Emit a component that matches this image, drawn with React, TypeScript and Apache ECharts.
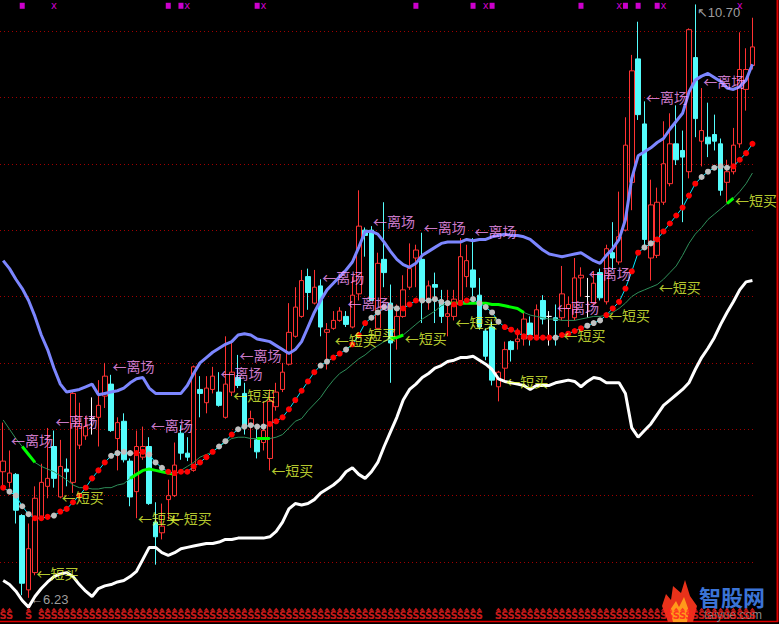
import React, { useEffect, useRef } from "react";
import * as echarts from "echarts";

// [open, close, low, high]
const candles: number[][] = [
  [7.18, 7.26, 7.06, 7.55], [7.10, 7.17, 7.06, 7.34], [7.16, 6.89, 6.79, 7.17], [6.85, 6.34, 6.25, 6.86], [6.29, 6.60, 6.23, 6.79],
  [6.42, 6.98, 6.40, 7.07], [6.84, 7.10, 6.83, 7.24], [7.07, 7.13, 6.98, 7.51], [7.37, 7.13, 7.06, 7.49], [6.99, 7.22, 6.98, 7.42],
  [7.20, 7.18, 7.07, 7.28], [7.10, 7.77, 7.02, 7.78], [7.38, 7.52, 7.35, 7.70], [7.45, 7.52, 7.42, 7.60], [7.58, 7.58, 7.46, 7.74],
  [7.59, 7.68, 7.37, 7.87], [7.75, 7.90, 7.66, 8.00], [7.84, 7.49, 7.48, 7.91], [7.43, 7.55, 7.19, 7.59], [7.56, 7.27, 7.25, 7.62],
  [7.26, 6.99, 6.92, 7.28], [7.03, 7.37, 6.83, 7.49], [7.29, 7.37, 7.27, 7.52], [7.37, 6.94, 6.93, 7.44], [6.80, 6.69, 6.48, 6.95],
  [6.72, 6.77, 6.67, 6.94], [6.97, 7.00, 6.82, 7.12], [7.00, 7.23, 6.99, 7.40], [7.47, 7.32, 7.27, 7.53], [7.32, 7.29, 7.26, 7.44],
  [7.19, 7.97, 7.18, 7.98], [7.80, 7.77, 7.59, 7.90], [7.70, 7.81, 7.62, 7.90], [7.80, 7.90, 7.77, 7.97], [7.78, 7.68, 7.67, 7.93],
  [7.59, 7.84, 7.58, 8.20], [7.78, 7.93, 7.75, 8.15], [7.89, 7.83, 7.81, 8.06], [7.77, 7.52, 7.46, 7.85], [7.53, 7.58, 7.36, 7.64],
  [7.42, 7.33, 7.28, 7.52], [7.40, 7.49, 7.34, 7.71], [7.28, 7.71, 7.19, 7.80], [7.67, 7.78, 7.64, 7.85], [7.80, 7.93, 7.78, 8.00],
  [7.99, 8.23, 7.98, 8.45], [8.20, 8.42, 8.19, 8.57], [8.35, 8.62, 8.34, 8.70], [8.65, 8.53, 8.40, 8.71], [8.45, 8.57, 8.44, 8.70],
  [8.58, 8.27, 8.20, 8.63], [8.23, 8.25, 7.95, 8.30], [8.26, 8.32, 8.25, 8.39], [8.32, 8.39, 8.31, 8.42], [8.35, 8.29, 8.27, 8.39],
  [8.27, 8.51, 8.26, 8.65], [8.52, 9.03, 8.47, 9.30], [9.00, 8.96, 8.80, 9.02], [9.00, 8.47, 8.47, 9.03], [8.26, 8.75, 8.26, 8.83],
  [8.78, 8.68, 8.57, 9.21], [8.45, 8.15, 7.85, 8.59], [8.20, 8.35, 8.10, 8.44], [8.35, 8.55, 8.34, 8.66], [8.57, 8.71, 8.55, 8.90],
  [8.79, 8.85, 8.57, 8.89], [8.78, 8.47, 8.30, 8.98], [8.47, 8.58, 8.40, 8.62], [8.59, 8.57, 8.30, 8.68], [8.47, 8.35, 8.30, 8.55],
  [8.35, 8.37, 8.20, 8.55], [8.35, 8.48, 8.32, 8.55], [8.47, 8.80, 8.46, 8.94], [8.65, 8.77, 8.57, 8.89], [8.70, 8.57, 8.50, 8.94],
  [8.51, 8.27, 8.25, 8.64], [8.24, 8.05, 8.02, 8.26], [8.27, 7.87, 7.83, 8.31], [7.82, 7.93, 7.71, 7.94], [7.96, 8.10, 7.86, 8.16],
  [8.16, 8.10, 8.01, 8.17], [8.16, 8.18, 8.10, 8.26], [8.18, 8.33, 8.13, 8.38], [8.30, 8.21, 8.13, 8.35], [8.20, 8.40, 8.19, 8.44],
  [8.47, 8.33, 8.29, 8.51], [8.35, 8.35, 8.13, 8.39], [8.34, 8.32, 8.13, 8.44], [8.34, 8.52, 8.32, 8.73], [8.41, 8.44, 8.27, 8.50],
  [8.34, 8.64, 8.32, 8.79], [8.64, 8.66, 8.50, 8.72], [8.50, 8.50, 8.34, 8.64], [8.45, 8.60, 8.44, 8.69], [8.68, 8.49, 8.47, 8.71],
  [8.46, 8.86, 8.44, 8.89], [8.83, 8.79, 8.70, 9.06], [8.76, 8.95, 8.74, 9.29], [9.00, 9.64, 8.99, 9.85], [9.36, 10.20, 9.15, 10.32],
  [10.29, 9.87, 9.83, 10.57], [9.80, 8.93, 8.85, 9.97], [8.79, 9.19, 8.62, 9.38], [8.81, 9.21, 8.79, 9.32], [9.21, 9.50, 9.19, 9.82],
  [9.35, 9.65, 9.33, 9.88], [9.65, 9.53, 9.49, 9.94], [9.60, 9.55, 9.06, 9.75], [9.44, 10.51, 9.39, 10.52], [10.30, 9.84, 9.70, 10.70],
  [9.67, 9.75, 9.48, 10.07], [9.70, 9.65, 9.55, 9.96], [9.72, 9.67, 9.60, 9.87], [9.65, 9.30, 9.26, 9.69], [9.36, 9.44, 9.21, 9.53],
  [9.44, 9.64, 9.42, 9.77], [9.65, 10.21, 9.62, 10.49], [10.06, 10.21, 9.90, 10.37], [10.24, 10.38, 10.21, 10.60],
];

const dojiDays = [14, 86, 92];

const upperBand = [
  8.77, 8.71, 8.63, 8.56, 8.47, 8.35, 8.21, 8.10, 7.96, 7.84,
  7.78, 7.79, 7.80, 7.82, 7.84, 7.76, 7.77, 7.78, 7.79, 7.81,
  7.85, 7.88, 7.89, 7.81, 7.77, 7.77, 7.77, 7.77, 7.77, 7.83,
  7.92, 8.00, 8.04, 8.08, 8.11, 8.14, 8.16, 8.21, 8.22, 8.21,
  8.18, 8.17, 8.16, 8.13, 8.10, 8.07, 8.10, 8.16, 8.27, 8.38,
  8.47, 8.55, 8.60, 8.65, 8.70, 8.76, 8.87, 8.99, 8.99, 8.97,
  8.91, 8.84, 8.78, 8.74, 8.72, 8.75, 8.81, 8.84, 8.87, 8.90,
  8.91, 8.91, 8.91, 8.93, 8.92, 8.93, 8.93, 8.95, 8.96, 8.97,
  8.96, 8.96, 8.95, 8.93, 8.89, 8.85, 8.82, 8.81, 8.80, 8.81,
  8.82, 8.83, 8.80, 8.77, 8.75, 8.81, 8.86, 8.93, 9.08, 9.39,
  9.56, 9.59, 9.62, 9.66, 9.69, 9.76, 9.82, 9.88, 10.04, 10.13,
  10.16, 10.18, 10.15, 10.12, 10.07, 10.06, 10.08, 10.13, 10.25,
];

const whiteLine = [
  6.36, 6.33, 6.28, 6.21, 6.16, 6.24, 6.30, 6.35, 6.39, 6.41,
  6.42, 6.39, 6.33, 6.28, 6.24, 6.30, 6.32, 6.33, 6.35, 6.36,
  6.39, 6.43, 6.52, 6.61, 6.61, 6.57, 6.55, 6.57, 6.60, 6.61,
  6.62, 6.63, 6.64, 6.64, 6.65, 6.67, 6.67, 6.68, 6.68, 6.68,
  6.68, 6.68, 6.69, 6.73, 6.80, 6.90, 6.94, 6.93, 6.94, 6.97,
  7.02, 7.05, 7.08, 7.12, 7.18, 7.21, 7.16, 7.13, 7.18, 7.25,
  7.37, 7.48, 7.59, 7.72, 7.80, 7.84, 7.89, 7.92, 7.96, 7.98,
  8.01, 8.02, 8.04, 8.04, 8.05, 8.02, 7.99, 7.95, 7.88, 7.86,
  7.85, 7.84, 7.83, 7.80, 7.83, 7.83, 7.83, 7.85, 7.86, 7.87,
  7.86, 7.82, 7.86, 7.89, 7.88, 7.85, 7.85, 7.85, 7.77, 7.51,
  7.44, 7.49, 7.54, 7.61, 7.68, 7.72, 7.76, 7.80, 7.85, 7.95,
  8.04, 8.11, 8.19, 8.29, 8.38, 8.46, 8.55, 8.61, 8.62,
];

const slowLine = [
  7.57, 7.50, 7.43, 7.37, 7.31, 7.25, 7.22, 7.20, 7.18, 7.15,
  7.12, 7.08, 7.06, 7.06, 7.05, 7.05, 7.06, 7.06, 7.08, 7.09,
  7.13, 7.16, 7.19, 7.20, 7.19, 7.18, 7.17, 7.16, 7.19, 7.22,
  7.25, 7.29, 7.31, 7.33, 7.37, 7.40, 7.43, 7.44, 7.44, 7.43,
  7.43, 7.43, 7.43, 7.44, 7.46, 7.51, 7.56, 7.58, 7.64, 7.69,
  7.74, 7.81, 7.87, 7.92, 7.95, 7.99, 8.03, 8.06, 8.10, 8.13,
  8.16, 8.18, 8.19, 8.21, 8.25, 8.29, 8.33, 8.36, 8.39, 8.43,
  8.45, 8.45, 8.45, 8.45, 8.45, 8.45, 8.45, 8.44, 8.44, 8.43,
  8.42, 8.41, 8.38, 8.36, 8.35, 8.34, 8.33, 8.33, 8.32, 8.32,
  8.32, 8.33, 8.34, 8.35, 8.35, 8.36, 8.38, 8.41, 8.45, 8.50,
  8.53, 8.55, 8.57, 8.59, 8.63, 8.68, 8.73, 8.81, 8.90, 8.97,
  9.02, 9.08, 9.12, 9.16, 9.20, 9.24, 9.29, 9.35, 9.43,
];

const slowHighlight = [[3, 5], [20, 27], [40, 42], [61, 63], [70, 82], [114, 115]];

const dotLine = [
  7.06, 7.03, 7.00, 6.92, 6.86, 6.83, 6.83, 6.84, 6.85, 6.88,
  6.90, 6.95, 7.00, 7.06, 7.13, 7.19, 7.25, 7.30, 7.32, 7.33,
  7.32, 7.32, 7.33, 7.31, 7.25, 7.21, 7.18, 7.17, 7.18, 7.18,
  7.22, 7.25, 7.29, 7.33, 7.37, 7.41, 7.46, 7.50, 7.52, 7.53,
  7.52, 7.52, 7.54, 7.56, 7.59, 7.65, 7.72, 7.79, 7.86, 7.93,
  7.98, 8.01, 8.04, 8.07, 8.10, 8.14, 8.21, 8.30, 8.34, 8.38,
  8.42, 8.42, 8.41, 8.41, 8.44, 8.47, 8.47, 8.47, 8.48, 8.46,
  8.45, 8.44, 8.45, 8.47, 8.48, 8.45, 8.42, 8.38, 8.31, 8.27,
  8.25, 8.23, 8.20, 8.19, 8.19, 8.19, 8.19, 8.19, 8.21, 8.22,
  8.24, 8.26, 8.28, 8.30, 8.32, 8.36, 8.41, 8.46, 8.56, 8.69,
  8.83, 8.87, 8.90, 8.93, 8.99, 9.05, 9.11, 9.17, 9.26, 9.35,
  9.40, 9.44, 9.47, 9.48, 9.47, 9.48, 9.53, 9.58, 9.65,
];

// R = rising (red dot), G = stalled (grey dot)
const dotState =
  "RGGGGRRRGR" + "RRRRRRRGGG" + "GRRGGGRRRR" + "RRRRGGRGGG" + "GGRRRRRRRR" + "GGRRGRRRGG" +
  "GGGRRRGGGG" + "GRRRGGGGGR" + "RRRRRRRGRR" + "RRGGGRRRRR" + "RGGRRRRRRR" + "GGGGGRRRR";

// [day index, price level of label]
const exitSignals = [
  [1, 7.42], [8, 7.56], [17, 7.98], [23, 7.53], [34, 7.92], [37, 8.06], [50, 8.65], [54, 8.45],
  [58, 9.07], [66, 9.02], [74, 8.99], [87, 8.42], [92, 8.68], [101, 10.0], [110, 10.12],
];
const buySignals = [
  [5, 6.42], [9, 6.99], [21, 6.83], [26, 6.83], [36, 7.76], [42, 7.19], [52, 8.17], [55, 8.22],
  [63, 8.19], [71, 8.31], [79, 7.86], [88, 8.21], [95, 8.36], [103, 8.57], [115, 9.23],
];

const topMarkBold = [3, 26, 28, 40, 65, 74, 77, 91, 98, 100, 103];
const topMarkLight = [8, 29, 41, 76, 97, 104, 116];
const sDays = [0, 1, 4, ...Array.from({ length: 70 }, (_, k) => 6 + k), ...Array.from({ length: 41 }, (_, k) => 78 + k)];

const highPoint = { day: 109, price: 10.7 };
const lowPoint = { day: 4, price: 6.23 };

const TOP_MARK_LEVEL = 10.69;
const S_LEVEL = 6.145;

const days = candles.map((_, i) => `D${i + 1}`);

export default function App() {
  const ref = useRef<HTMLDivElement>(null);
  useEffect(() => {
    if (!ref.current) return;
    const chart = echarts.init(ref.current, null, { renderer: "svg" });

    const candleData = candles.map((c, i) =>
      dojiDays.includes(i)
        ? { value: c, itemStyle: { color: "#ffffff", color0: "#ffffff", borderColor: "#ffffff", borderColor0: "#ffffff" } }
        : c
    );
    const highlightData = slowLine.map((v, i) =>
      slowHighlight.some(([a, b]) => i >= a && i <= b) ? v : null
    );
    const dotData = dotLine.map((v, i) => ({
      value: v,
      itemStyle: { color: dotState[i] === "R" ? "#ff0000" : "#c0c0c0" },
    }));

    const labelScatter = (data: number[][], text: string, color: string) => ({
      type: "scatter",
      data,
      symbolSize: 1,
      itemStyle: { color: "rgba(0,0,0,0)" },
      clip: false,
      silent: true,
      z: 10,
      label: {
        show: true,
        position: "right",
        distance: 1,
        formatter: text,
        color,
        fontSize: 14,
        fontFamily: "Noto Sans CJK SC",
      },
    });

    chart.setOption({
      animation: false,
      backgroundColor: "#000000",
      textStyle: { fontFamily: "Noto Sans CJK SC" },
      grid: { left: 0, right: 23.4, top: 31, bottom: 62 },
      xAxis: {
        type: "category",
        data: days,
        boundaryGap: true,
        axisLine: { show: false },
        axisTick: { show: false },
        axisLabel: { show: false },
        splitLine: { show: false },
      },
      yAxis: {
        type: "value",
        min: 6.5,
        max: 10.5,
        interval: 0.5,
        axisLine: { show: false },
        axisTick: { show: false },
        axisLabel: { show: false },
        splitLine: { show: true, lineStyle: { color: "#a00000", type: [1, 3], width: 1 } },
      },
      series: [
        {
          type: "candlestick",
          data: candleData,
          barWidth: 5,
          clip: false,
          silent: true,
          z: 2,
          itemStyle: {
            color: "#000000",
            color0: "#54fcfc",
            borderColor: "#ff3232",
            borderColor0: "#54fcfc",
            borderWidth: 1,
          },
        },
        {
          type: "line",
          data: slowLine,
          symbol: "none",
          clip: false,
          silent: true,
          z: 3,
          lineStyle: { color: "#2f8f5a", width: 1 },
        },
        {
          type: "line",
          data: highlightData,
          symbol: "none",
          connectNulls: false,
          clip: false,
          silent: true,
          z: 3,
          lineStyle: { color: "#00ff00", width: 3 },
        },
        {
          type: "line",
          data: upperBand,
          symbol: "none",
          clip: false,
          silent: true,
          z: 4,
          lineStyle: { color: "#7c86ff", width: 3 },
        },
        {
          type: "line",
          data: whiteLine,
          symbol: "none",
          clip: false,
          silent: true,
          z: 4,
          lineStyle: { color: "#ffffff", width: 3 },
        },
        {
          type: "line",
          data: dotData,
          symbol: "circle",
          symbolSize: 6,
          showSymbol: true,
          showAllSymbol: true,
          clip: false,
          silent: true,
          z: 5,
          lineStyle: { color: "#00e8ff", width: 1 },
        },
        labelScatter(exitSignals, "←离场", "#ff9cff"),
        labelScatter(buySignals, "←短买", "#e6ff3c"),
        {
          type: "scatter",
          data: topMarkBold.map((d) => [d, TOP_MARK_LEVEL]),
          symbol: "rect",
          symbolSize: [5, 6],
          itemStyle: { color: "#ff00ff" },
          clip: false,
          silent: true,
          z: 10,
        },
        {
          type: "scatter",
          data: topMarkLight.map((d) => [d, TOP_MARK_LEVEL]),
          symbolSize: 1,
          itemStyle: { color: "rgba(0,0,0,0)" },
          clip: false,
          silent: true,
          z: 10,
          label: { show: true, position: "inside", formatter: "x", color: "#ff00ff", fontSize: 10, fontFamily: "DejaVu Sans" },
        },
        {
          type: "scatter",
          data: sDays.map((d) => [d, S_LEVEL]),
          symbol: "triangle",
          symbolSize: [5, 3],
          itemStyle: { color: "#ff2020" },
          clip: false,
          silent: true,
          z: 10,
          label: {
            show: true,
            position: "bottom",
            distance: 0,
            formatter: "S",
            color: "#ff2020",
            fontSize: 10,
            fontWeight: "bold",
            fontFamily: "DejaVu Sans",
          },
        },
        {
          type: "scatter",
          data: [
            { value: [highPoint.day, highPoint.price], label: { formatter: "↖" + highPoint.price.toFixed(2), offset: [0, 8] } },
            { value: [lowPoint.day, lowPoint.price], label: { formatter: "←" + lowPoint.price.toFixed(2), offset: [0, 2] } },
          ],
          symbolSize: 1,
          itemStyle: { color: "rgba(0,0,0,0)" },
          clip: false,
          silent: true,
          z: 10,
          label: { show: true, position: "right", distance: 1, color: "#c8c8c8", fontSize: 13, fontFamily: "Liberation Sans" },
        },
      ],
      graphic: [
        { type: "line", shape: { x1: 777.5, y1: 0, x2: 777.5, y2: 622 }, style: { stroke: "#e00000", lineWidth: 2 }, silent: true },
        { type: "line", shape: { x1: 0, y1: 621.5, x2: 778, y2: 621.5 }, style: { stroke: "#e00000", lineWidth: 1.5 }, silent: true },
        {
          type: "polygon",
          shape: { points: [[668, 622], [662, 606], [666, 594], [671, 600], [673, 586], [681, 593], [685, 580], [690, 596], [697, 606], [693, 622]] },
          style: { fill: "#e8321a" },
          silent: true,
        },
        {
          type: "polygon",
          shape: { points: [[673, 622], [670, 610], [676, 601], [679, 607], [684, 597], [689, 611], [687, 622]] },
          style: { fill: "#ff9a1a" },
          silent: true,
        },
        {
          type: "text",
          left: 699,
          top: 585,
          style: { text: "智股网", fill: "#3b74d6", font: 'bold 22px "Noto Sans CJK SC"' },
          silent: true,
        },
        {
          type: "text",
          left: 704,
          top: 609,
          style: { text: "taiyue.com", fill: "#8a8a8a", font: '12px "Liberation Sans"' },
          silent: true,
        },
      ],
    });
    return () => chart.dispose();
  }, []);
  return <div ref={ref} style={{ position: "fixed", left: 0, top: 0, width: 779, height: 624 }} />;
}
